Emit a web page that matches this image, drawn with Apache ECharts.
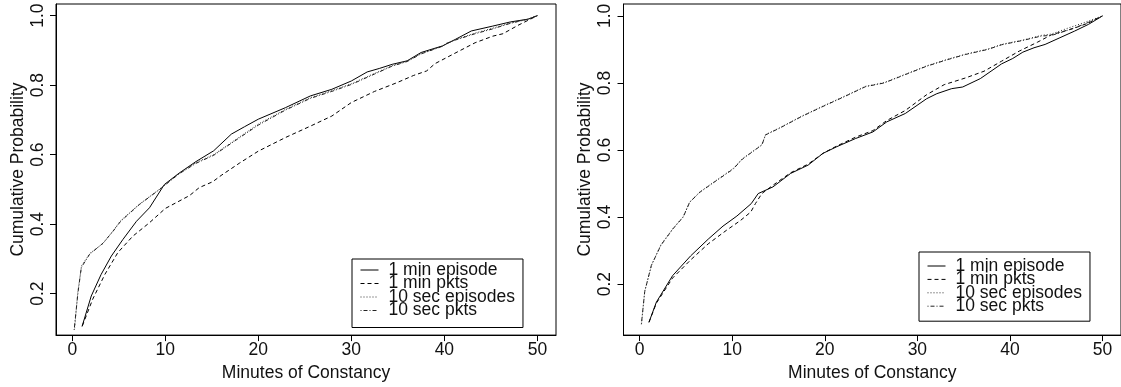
<!DOCTYPE html>
<html>
<head>
<meta charset="utf-8">
<script src="https://cdn.jsdelivr.net/npm/echarts@6/dist/echarts.min.js"></script>
<style>
html,body{margin:0;padding:0;background:#fff;}
#chart{width:1121px;height:387px;}
</style>
</head>
<body>
<div id="chart"></div>
<script>
// ---- data ----
const seriesNames = ["1 min episode", "1 min pkts", "10 sec episodes", "10 sec pkts"];
const xTicks = [0, 10, 20, 30, 40, 50];
const yTicks = [0.2, 0.4, 0.6, 0.8, 1.0];
const xTitle = "Minutes of Constancy";
const yTitle = "Cumulative Probability";

// Left panel
const left1minEpisode = [[1.05,0.105],[2.04,0.193],[3.1,0.255],[4.2,0.308],[5.45,0.356],[6.9,0.408],[8.3,0.447],[9.9,0.514],[11.5,0.547],[13.3,0.58],[15.2,0.611],[17.1,0.659],[18.5,0.68],[20,0.702],[22.9,0.735],[25.6,0.769],[27.9,0.788],[30,0.812],[31.7,0.838],[33,0.848],[34.4,0.86],[36,0.87],[37.5,0.894],[39.8,0.913],[41.2,0.932],[42.9,0.956],[45.2,0.97],[47.1,0.982],[49,0.99],[50,1.0]];
const left1minPkts = [[1.08,0.107],[2.2,0.184],[3.5,0.255],[4.9,0.318],[6.5,0.365],[8.3,0.404],[10,0.445],[12.6,0.482],[13.65,0.505],[15.1,0.522],[16,0.54],[18,0.576],[20,0.61],[22.9,0.649],[25.6,0.682],[27.9,0.711],[30,0.75],[32.5,0.782],[34.8,0.806],[36.7,0.828],[38.1,0.841],[39,0.862],[41,0.89],[43.3,0.922],[45.2,0.941],[46.3,0.948],[47.9,0.972],[50,1.0]];
const left10secEpisodes = [[0.25,0.1],[0.6,0.205],[1.0,0.28],[1.9,0.316],[3.3,0.344],[4.4,0.381],[5.2,0.41],[7.2,0.457],[9.4,0.501],[10,0.514],[11.5,0.546],[13.3,0.577],[15.2,0.6],[17.5,0.642],[20,0.688],[22.9,0.73],[25.6,0.764],[27.9,0.784],[30,0.804],[32.5,0.834],[34.4,0.856],[36,0.869],[37.5,0.891],[39.8,0.912],[40.2,0.918],[41.2,0.931],[43.3,0.95],[45.2,0.964],[47.1,0.979],[49,0.99],[50,1.0]];
const left10secPkts = [[0.2,0.095],[0.6,0.2],[0.97,0.275],[1.86,0.313],[3.3,0.345],[4.4,0.38],[5.2,0.408],[7.2,0.456],[9.4,0.5],[10,0.513],[11.5,0.545],[13.3,0.575],[15.2,0.598],[17.5,0.64],[20,0.685],[22.9,0.728],[25.6,0.762],[27.9,0.782],[30,0.802],[32.5,0.832],[34.4,0.855],[36,0.868],[37.5,0.89],[39.8,0.912],[40.2,0.92],[41.2,0.93],[43.3,0.948],[45.2,0.962],[47.1,0.978],[49,0.99],[50,1.0]];

// Right panel
const right1minEpisode = [[1.0,0.086],[1.8,0.146],[3.55,0.225],[5.5,0.284],[7.4,0.334],[9,0.373],[10.5,0.403],[12.05,0.44],[12.8,0.47],[14.4,0.49],[16.3,0.53],[18.2,0.555],[19.8,0.59],[21.3,0.61],[23.3,0.634],[25.2,0.654],[26.7,0.684],[28.7,0.709],[31,0.753],[32.1,0.768],[33.7,0.783],[34.9,0.788],[36.8,0.813],[39.1,0.857],[40.3,0.873],[41.4,0.892],[42.6,0.905],[43.8,0.915],[45.4,0.935],[47,0.955],[48.5,0.975],[50,1.0]];
const right1minPkts = [[1.0,0.086],[1.8,0.143],[3.55,0.218],[5.5,0.272],[7.4,0.32],[9.35,0.36],[10.9,0.39],[12,0.415],[12.5,0.44],[13.2,0.47],[14.4,0.495],[16.3,0.532],[18.2,0.558],[19.8,0.59],[21.3,0.612],[23.3,0.638],[25.2,0.658],[26.7,0.688],[28.7,0.718],[31,0.765],[32.9,0.795],[35.2,0.815],[37.2,0.835],[39.1,0.865],[41,0.895],[43,0.922],[44.5,0.944],[46.8,0.962],[48.4,0.978],[50,1.0]];
const right10secEpisodes = [[0.2,0.082],[0.55,0.18],[1.3,0.258],[2.3,0.318],[3.6,0.366],[4.7,0.401],[5.4,0.445],[6.5,0.475],[8.3,0.51],[10.1,0.545],[11.1,0.574],[12.6,0.604],[13.2,0.616],[13.6,0.646],[15.1,0.666],[17.5,0.701],[19.8,0.731],[22.1,0.76],[24.4,0.79],[26.4,0.801],[28.7,0.826],[31,0.851],[33.3,0.871],[35.2,0.886],[37.6,0.901],[39.1,0.915],[41.4,0.928],[43.4,0.942],[44.5,0.946],[46.1,0.962],[48,0.98],[50,1.0]];
const right10secPkts = [[0.18,0.08],[0.54,0.177],[1.26,0.256],[2.3,0.316],[3.6,0.365],[4.7,0.4],[5.4,0.444],[6.5,0.474],[8.3,0.509],[10.1,0.543],[11.1,0.573],[12.6,0.603],[13.2,0.615],[13.6,0.645],[15.1,0.665],[17.5,0.7],[19.8,0.73],[22.1,0.759],[24.4,0.789],[26.4,0.8],[28.7,0.825],[31,0.85],[33.3,0.87],[35.2,0.885],[37.6,0.9],[39.1,0.914],[41.4,0.927],[43.4,0.94],[44.5,0.942],[46.1,0.956],[48,0.975],[50,1.0]];

const leftData = [left1minEpisode, left1minPkts, left10secEpisodes, left10secPkts];
const rightData = [right1minEpisode, right1minPkts, right10secEpisodes, right10secPkts];

// ---- styles ----
const FONT = "Liberation Sans, Arial, Helvetica, sans-serif";
const INK = "#111";
const lineTypes = ["solid", [4, 3], [1, 2], [1, 2, 4, 2]];
const lineColors = ["#000", "#000", "#333", "#222"];

function xAxis(gridIndex) {
  return {
    type: "value", gridIndex, min: -1.75, max: 52,
    name: xTitle, nameLocation: "middle", nameGap: 23,
    nameTextStyle: { fontFamily: FONT, fontSize: 17.5, color: INK },
    axisLine: { show: true, onZero: false, lineStyle: { color: "#000", width: 1 } },
    splitLine: { show: false },
    axisTick: { show: true, inside: false, length: 6, lineStyle: { color: "#000", width: 1 }, customValues: xTicks },
    axisLabel: { show: true, margin: 6, fontFamily: FONT, fontSize: 17.5, color: INK, customValues: xTicks, formatter: v => String(Math.round(v)) }
  };
}
function yAxis(gridIndex, min, max) {
  return {
    type: "value", gridIndex, min, max,
    name: yTitle, nameLocation: "middle", nameGap: 29, nameRotate: 90,
    nameTextStyle: { fontFamily: FONT, fontSize: 17.5, color: INK },
    axisLine: { show: true, onZero: false, lineStyle: { color: "#000", width: 1 } },
    splitLine: { show: false },
    axisTick: { show: true, inside: false, length: 6, lineStyle: { color: "#000", width: 1 }, customValues: yTicks },
    axisLabel: { show: true, rotate: 90, margin: 9, fontFamily: FONT, fontSize: 17.5, color: INK, customValues: yTicks, formatter: v => v.toFixed(1) }
  };
}

const series = [];
[leftData, rightData].forEach((set, gi) => {
  set.forEach((d, i) => {
    series.push({
      type: "line", name: seriesNames[i], xAxisIndex: gi, yAxisIndex: gi,
      data: d, symbol: "none", showSymbol: false, smooth: false, silent: true,
      lineStyle: { color: lineColors[i], width: 1, type: lineTypes[i] },
      itemStyle: { color: lineColors[i] },
      z: 3 + i
    });
  });
});

function legend(left, top, padding, gap) {
  return {
    show: true, orient: "vertical", left, top, padding,
    data: seriesNames, itemWidth: 18, itemHeight: 10, itemGap: gap,
    borderColor: "#000", borderWidth: 1, backgroundColor: "#fff",
    selectedMode: false,
    itemStyle: { opacity: 0 },
    lineStyle: { width: 1 },
    textStyle: { fontFamily: FONT, fontSize: 17.5, color: INK, padding: [0, 0, 0, 5] }
  };
}

const option = {
  animation: false,
  backgroundColor: "#fff",
  grid: [
    { left: 56, top: 4, width: 500, height: 332, show: true, borderColor: "#000", borderWidth: 1, backgroundColor: "transparent" },
    { left: 623.5, top: 4, width: 499, height: 333, show: true, borderColor: "#000", borderWidth: 1, backgroundColor: "transparent" }
  ],
  xAxis: [xAxis(0), xAxis(1)],
  yAxis: [yAxis(0, 0.0804, 1.0336), yAxis(1, 0.0478, 1.0356)],
  legend: [legend(352, 259, [2, 8, 8, 8], -4.5), legend(919, 252, [5, 8, 6, 8], -4.6)],
  series
};

const chart = echarts.init(document.getElementById("chart"), null, { renderer: "canvas" });
chart.setOption(option);
</script>
</body>
</html>
